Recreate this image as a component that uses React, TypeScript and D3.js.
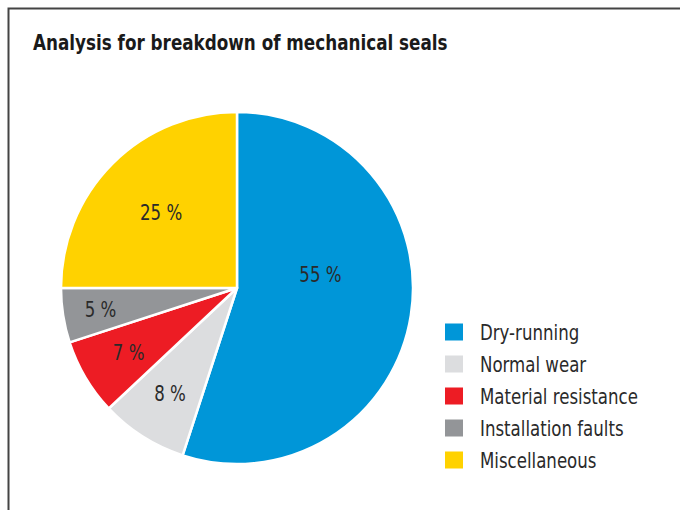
import React from "react";
import * as d3 from "d3";

const categories = ["Dry-running", "Normal wear", "Material resistance", "Installation faults", "Miscellaneous"];
const values = [55, 8, 7, 5, 25];
const colors = ["#0096D8", "#DCDDDF", "#ED1C24", "#939598", "#FFD200"];
const title = "Analysis for breakdown of mechanical seals";

const FONT = "'DejaVu Sans Condensed', 'Liberation Sans Narrow', sans-serif";
// label placement: [radius fraction, angle shift in degrees]
const labelPos: [number, number][] = [[0.48, -18], [0.71, 0], [0.715, 0], [0.785, 0], [0.61, 0]];

export default function App() {
  const W = 680, H = 510;
  const cx = 237, cy = 288, r = 176;
  const pie = d3.pie<number>().sort(null).value((d) => d)(values);
  const arc = d3.arc<d3.PieArcDatum<number>>().innerRadius(0).outerRadius(r);
  const legendY = d3.scaleBand<string>().domain(categories).range([316, 476]);
  const SX = 0.84;

  return (
    <svg width={W} height={H} style={{ position: "absolute", left: 0, top: 0 }}>
      <rect x={0} y={0} width={W} height={H} fill="#fff" />
      <path d={`M8.5,${H} V8.5 H${W}`} fill="none" stroke="#444" strokeWidth={2} />
      <text transform={`translate(33,50) scale(0.89,1)`} fontFamily={FONT} fontWeight="bold" fontSize={21} fill="#1a1a1a">
        {title}
      </text>
      <g transform={`translate(${cx},${cy})`}>
        {pie.map((d, i) => (
          <path key={i} d={arc(d) || ""} fill={colors[i]} stroke="#fff" strokeWidth={2.5} strokeLinejoin="round" />
        ))}
        {pie.map((d, i) => {
          const a = (d.startAngle + d.endAngle) / 2 + (labelPos[i][1] * Math.PI) / 180;
          const rr = r * labelPos[i][0];
          return (
            <text key={"l" + i} transform={`translate(${Math.sin(a) * rr},${-Math.cos(a) * rr}) scale(${SX},1)`}
              textAnchor="middle" dominantBaseline="central" fontFamily={FONT} fontSize={22} fill="#2a2a2a">
              {values[i]} %
            </text>
          );
        })}
      </g>
      {categories.map((c, i) => {
        const y = legendY(c)! + legendY.bandwidth() / 2;
        return (
          <g key={c}>
            <rect x={445} y={y - 8.5} width={18} height={17} fill={colors[i]} />
            <text transform={`translate(480,${y}) scale(${SX},1)`} dominantBaseline="central" fontFamily={FONT} fontSize={22} fill="#2a2a2a">
              {c}
            </text>
          </g>
        );
      })}
    </svg>
  );
}
